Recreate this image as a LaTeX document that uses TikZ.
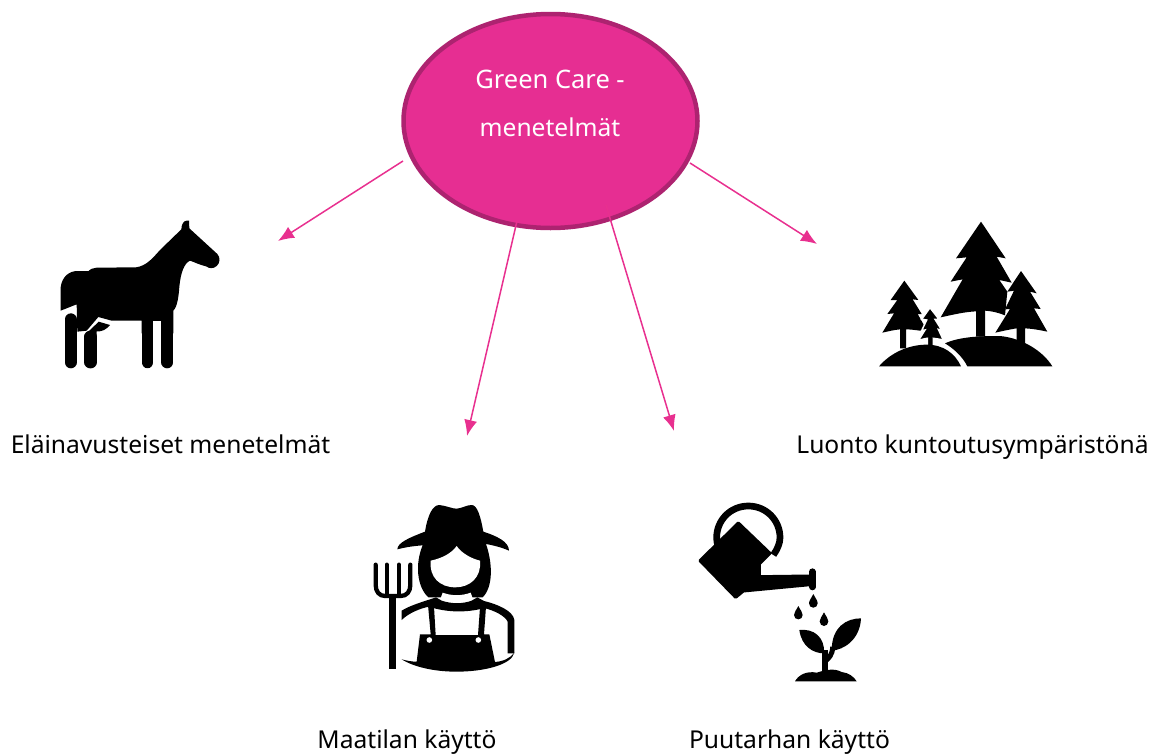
\documentclass[tikz,border=0pt]{standalone}
\usepackage{fontspec}
\setmainfont{Noto Sans}
\usetikzlibrary{arrows.meta,shapes.geometric}
\definecolor{pinkfill}{HTML}{E62E92}
\definecolor{pinkedge}{HTML}{AD2370}
\definecolor{pinkline}{HTML}{E8308F}
\tikzset{
  lab/.style={font=\fontsize{24.6}{28}\selectfont,inner sep=0,text=black,anchor=base},
  inner/.style={font=\fontsize{25.5}{28}\selectfont,text=white,inner sep=0,anchor=base},
  arr/.style={draw=pinkline,line width=1.5pt,-{Latex[length=16pt,width=13pt]}},
  bk/.style={fill=black,draw=none},
  stk/.style={draw=black,line cap=round,line join=round},
  zm/.style={x=.33333pt,y=-.33333pt}
}
\begin{document}
\begin{tikzpicture}[x=1pt,y=-1pt]
\useasboundingbox (0,0) rectangle (1151,755);
% central ellipse
\node[ellipse,draw=pinkedge,fill=pinkfill,line width=4.5pt,minimum width=294pt,minimum height=214pt,inner sep=0] (e) at (550.5,121) {};
\node[inner] (t1) at (550,88) {Green Care -};
\node[inner,font=\fontsize{24.6}{28}\selectfont] (t2) at (550,136) {menetelmät};
% labels
\node[lab] (l1) at (170.5,453) {Eläinavusteiset menetelmät};
\node[lab] (l2) at (972.5,453) {Luonto kuntoutusympäristönä};
\node[lab] (l3) at (407,748.5) {Maatilan käyttö};
\node[lab] (l4) at (789.5,748.5) {Puutarhan käyttö};
% connector ends
\coordinate (s1) at (403,161);
\coordinate (s2) at (517,221);
\coordinate (s3) at (606,205);
\coordinate (s4) at (690,163);
\coordinate (h1) at (278,241);
\coordinate (h2) at (467,436);
\coordinate (h3) at (674,431);
\coordinate (h4) at (817,244);
\draw[arr] (s1) -- (h1);
\draw[arr] (s2) -- (h2);
\draw[arr] (s3) -- (h3);
\draw[arr] (s4) -- (h4);
% horse
\begin{scope}[shift={(40,200)},zm]
\path[bk] (424,88) .. controls (424,72) and (432,62) .. (440,62) -- (447,62) -- (448,85)
  -- (532,162) .. controls (542,172) and (540,190) .. (530,198) .. controls (520,207) and (508,206) .. (498,199)
  .. controls (480,195) and (462,186) .. (450,182) .. controls (432,190) and (422,220) .. (418,260)
  .. controls (416,290) and (412,320) .. (400,332) -- (400,400)
  -- (305,400) -- (305,362) -- (215,362)
  -- (175,351) -- (140,392) -- (112,395) -- (110,313) -- (62,332) -- (62,262)
  .. controls (66,228) and (90,213) .. (112,213) -- (146,213) .. controls (150,208) and (160,203) .. (170,203)
  -- (288,202) .. controls (320,198) and (340,172) .. (360,150) -- cycle;
\path[fill=white] (340,362) rectangle (364,402);
\draw[stk,line width=12pt] (382,340) -- (382,487);
\draw[stk,line width=11.8pt] (322.5,370) -- (322.5,487);
\draw[stk,line width=12pt] (92,358) -- (92,487);
\draw[stk,line width=12.2pt] (151.5,410) -- (151.5,487);
\path[bk] (133,407) -- (176,365) -- (210,375) .. controls (200,388) and (185,396) .. (170,394) -- (170,420) -- (133,420) -- cycle;
\end{scope}
% farmer
\begin{scope}[shift={(360,490)},zm]
\path[bk] (112,178) .. controls (112,158) and (150,142) .. (195,125)
  .. controls (203,75) and (218,45) .. (238,45) .. controls (258,47) and (280,57) .. (290,56)
  .. controls (305,55) and (320,45) .. (335,45) .. controls (352,45) and (362,80) .. (370,125)
  .. controls (410,138) and (447,155) .. (447,182) .. controls (425,172) and (400,166) .. (378,162)
  .. controls (398,220) and (400,290) .. (368,322) -- (205,322)
  .. controls (170,290) and (165,220) .. (188,166) .. controls (160,168) and (135,172) .. (112,178) -- cycle;
\path[fill=white] (212,212) .. controls (245,205) and (275,190) .. (290,168)
  .. controls (305,190) and (335,206) .. (360,212) .. controls (365,262) and (330,292) .. (286,292)
  .. controls (240,292) and (207,262) .. (212,212) -- cycle;
% neck strip
\path[fill=white] (248,308) .. controls (275,318) and (305,318) .. (332,308) -- (340,330)
  .. controls (310,340) and (270,340) .. (240,330) -- cycle;
% collar / shoulders
\path[bk] (125,362) .. controls (150,346) and (190,335) .. (228,322) -- (245,332)
  .. controls (275,342) and (308,342) .. (335,332) -- (352,322) -- (372,333)
  .. controls (410,342) and (460,362) .. (463,390) -- (463,490) -- (443,490) -- (443,395)
  .. controls (435,378) and (405,362) .. (372,354) -- (370,355) .. controls (320,368) and (260,368) .. (207,350)
  .. controls (180,355) and (145,370) .. (125,390) -- cycle;
% straps and bib
\path[bk] (204,345) -- (222,350) -- (227,435) -- (354,435) -- (360,352) -- (378,350) -- (372,433)
  -- (388,433) -- (405,516) .. controls (430,514) and (450,505) .. (463,488)
  .. controls (455,525) and (370,545) .. (290,545) .. controls (220,545) and (160,530) .. (125,508)
  .. controls (140,512) and (155,515) .. (170,515) -- (180,433) -- (212,433) -- cycle;
\path[fill=white] (208,450) circle[radius=2.8pt] (355,450) circle[radius=2.8pt];
% pitchfork
\path[stk,line width=4.3pt] (47,224) -- (47,285) .. controls (47,305) and (58,318) .. (75,318) -- (122,318)
  .. controls (140,318) and (151,305) .. (151,285) -- (151,224);
\path[stk,line width=4.3pt] (80,224) -- (80,316) (117,224) -- (117,316);
\path[bk] (86,318) rectangle (108,536);
\end{scope}
% watering can
\begin{scope}[shift={(690,490)},zm]
\draw[line width=6.7pt,draw=black] (83,165) .. controls (81,158) and (80,150) .. (80,143) .. controls (80,90) and (122,48) .. (175,48) .. controls (228,48) and (270,90) .. (270,143) .. controls (270,160) and (262,178) .. (250,195);
\path[draw=black,fill=black,line width=3pt,line join=round] (30,212) -- (145,99) -- (240,190) -- (208,222) -- (208,260)
  -- (360,258) -- (360,284) -- (160,303) -- (137,322) -- cycle;
\draw[stk,line width=6.6pt] (367,245) -- (367,291);
\path[bk] (370,312) .. controls (376,324) and (383,332) .. (383,340) .. controls (383,348) and (377,353) .. (370,353) .. controls (363,353) and (357,348) .. (357,340) .. controls (357,332) and (364,324) .. (370,312) -- cycle;
\path[bk] (325,348) .. controls (331,360) and (338,367) .. (338,375) .. controls (338,383) and (332,388) .. (325,388) .. controls (318,388) and (312,383) .. (312,375) .. controls (312,367) and (319,360) .. (325,348) -- cycle;
\path[bk] (402,367) .. controls (408,379) and (415,386) .. (415,394) .. controls (415,402) and (409,408) .. (402,408) .. controls (395,408) and (389,402) .. (389,394) .. controls (389,386) and (396,379) .. (402,367) -- cycle;
% plant
\path[bk] (328,420) .. controls (370,415) and (405,440) .. (402,490) .. controls (370,490) and (335,470) .. (328,420) -- cycle;
\path[bk] (513,385) .. controls (470,385) and (425,410) .. (425,482) .. controls (460,480) and (510,450) .. (513,385) -- cycle;
\draw[draw=black,line width=6pt] (405,550) -- (405,480);
\draw[draw=black,line width=5pt] (405,515) .. controls (415,505) and (428,495) .. (428,470);
\path[bk] (315,574) .. controls (325,555) and (350,542) .. (380,548) .. controls (400,542) and (430,532) .. (455,546)
  .. controls (475,548) and (492,560) .. (500,574) -- cycle;
\end{scope}
% trees
\begin{scope}[shift={(870,210)},zm]
\path[bk] (333,35) -- (407,145) -- (380,140) -- (425,218) -- (388,210) -- (412,245) -- (405,316)
  .. controls (385,308) and (365,303) .. (345,302) -- (345,380) -- (318,380) -- (318,304)
  .. controls (280,306) and (245,315) .. (212,322) -- (278,208) -- (242,215) -- (290,142) -- (258,145) -- cycle;
\path[bk] (453,183) -- (500,250) -- (480,245) -- (512,297) -- (492,295) -- (532,365)
  .. controls (510,360) and (485,356) .. (465,355) -- (465,410) -- (440,400) -- (440,355)
  .. controls (420,358) and (398,363) .. (376,368) -- (420,297) -- (405,298) -- (432,242) -- (412,245) -- cycle;
\path[bk] (103,212) -- (145,270) -- (128,268) -- (155,312) -- (143,312) -- (170,360) -- (150,362)
  .. controls (135,360) and (120,358) .. (108,358) -- (108,415) -- (90,415) -- (90,358)
  .. controls (70,360) and (55,364) .. (37,368) -- (72,310) -- (52,312) -- (82,270) -- (62,270) -- cycle;
\path[fill=black,draw=white,line width=1.5pt] (180,293) -- (207,328) -- (195,328) -- (215,360) -- (205,358) -- (220,390)
  .. controls (210,388) and (200,386) .. (190,385) -- (190,410) -- (172,410) -- (172,385)
  .. controls (160,386) and (152,390) .. (145,392) -- (165,360) -- (155,362) -- (170,330) -- (155,328) -- cycle;
\path[bk] (27,469) .. controls (65,425) and (120,404) .. (170,404)
  .. controls (220,404) and (255,430) .. (273,469) -- cycle;
\path[bk] (292,469) .. controls (278,440) and (250,415) .. (225,400)
  .. controls (270,380) and (330,378) .. (390,378) .. controls (460,385) and (520,425) .. (547,469) -- cycle;
\end{scope}
\end{tikzpicture}
\end{document}
